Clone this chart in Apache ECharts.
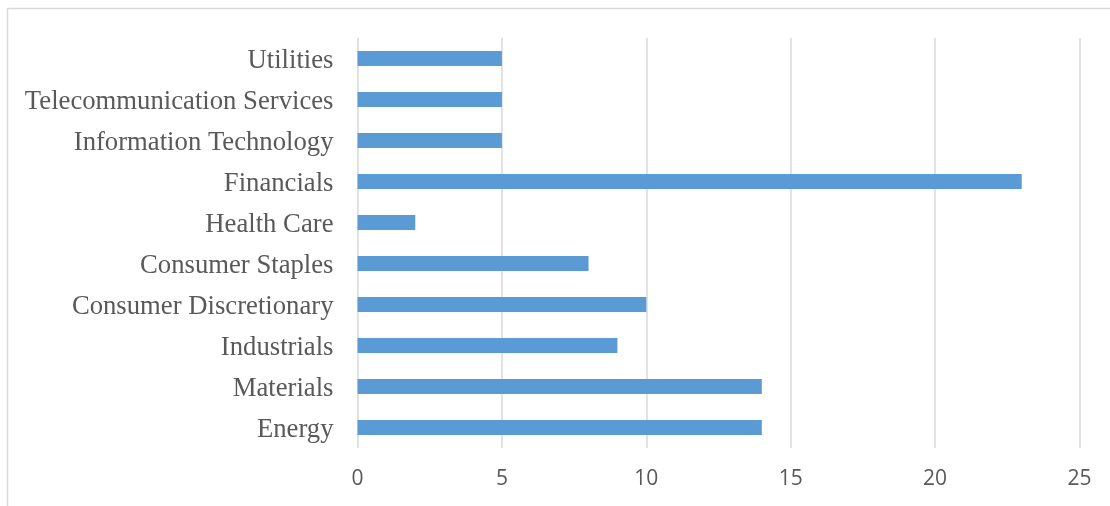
<!DOCTYPE html>
<html>
<head>
<meta charset="utf-8">
<script src="https://cdn.jsdelivr.net/npm/echarts@6/dist/echarts.min.js"></script>
<style>html,body{margin:0;padding:0;background:#fff;}#c{width:1110px;height:506px;}</style>
</head>
<body>
<div id="c"></div>
<script>
const categories = ["Energy","Materials","Industrials","Consumer Discretionary","Consumer Staples","Health Care","Financials","Information Technology","Telecommunication Services","Utilities"];
const values = [14,14,9,10,8,2,23,5,5,5];
const xTicks = [0,5,10,15,20,25];

const chart = echarts.init(document.getElementById('c'), null, {renderer:'canvas'});
chart.setOption({
  backgroundColor:'#ffffff',
  animation:false,
  graphic:[{type:'rect',silent:true,z:-1,shape:{x:7.5,y:8.5,width:2000,height:2000},style:{fill:'none',stroke:'#d9d9d9',lineWidth:1.5}}],
  grid:{left:357.5,right:30.5,top:38,bottom:58,containLabel:false},
  xAxis:{type:'value',min:xTicks[0],max:xTicks[xTicks.length-1],interval:5,
    axisLine:{show:false},axisTick:{show:false},
    splitLine:{show:true,lineStyle:{color:'#d9d9d9',width:1.5}},
    axisLabel:{color:'#595959',fontFamily:'Open Sans',fontSize:21,margin:21}},
  yAxis:{type:'category',data:categories,
    axisLine:{show:false},axisTick:{show:false},splitLine:{show:false},
    axisLabel:{color:'#595959',fontFamily:'Liberation Serif',fontSize:26.7,margin:24,verticalAlign:'top',lineHeight:5}},
  series:[{type:'bar',data:values,barWidth:'36.6%',itemStyle:{color:'#5b9bd5'}}]
});
</script>
</body>
</html>
